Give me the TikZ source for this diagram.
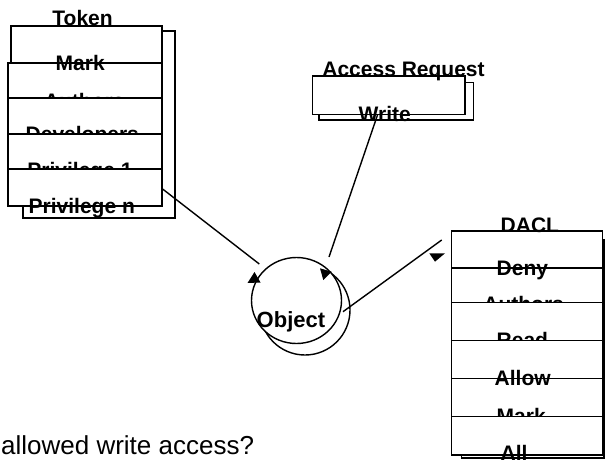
\documentclass[tikz,border=0pt]{standalone}
\usepackage{fontspec}
\setmainfont{Liberation Sans}
\begin{document}
\begin{tikzpicture}[x=1pt,y=-1pt,line width=1.4pt,
  cell/.style={draw=black,fill=white},
  lbl/.style={font=\bfseries\fontsize{21}{24}\selectfont,anchor=base west,inner sep=0pt},
  conn/.style={draw=black,line width=1.4pt},
  head/.style={fill=black,draw=none}]
\useasboundingbox (0,0) rectangle (605,461);
% ---------- Token stack ----------
\draw[cell] (23,31) rectangle (175,218);
\draw[cell] (11,26) rectangle (162,63);
\draw[cell] (8,63) rectangle (162,98);
\draw[cell] (8,98) rectangle (162,134);
\draw[cell] (8,134) rectangle (162,169);
\draw[cell] (8,169) rectangle (162,206);
\node[lbl] (token) at (51.7,25) {Token};
\node[lbl] (tmark) at (55,70.7) {Mark};
\begin{scope}\clip (0,0) rectangle (200,98);
\node[lbl] (tauthors) at (43.3,108) {Authors};\end{scope}
\begin{scope}\clip (0,0) rectangle (200,134);
\node[lbl] (tdev) at (25,141.4) {Developers};\end{scope}
\begin{scope}\clip (0,0) rectangle (200,169);
\node[lbl] (tpriv1) at (26.7,177) {Privilege 1};\end{scope}
\node[lbl] (tprivn) at (28,213.7) {Privilege n};
% ---------- Access Request ----------
\draw[cell] (319,82.3) rectangle (473.3,120);
\draw[cell] (312.7,76) rectangle (465,114.3);
\node[lbl] (access) at (321.7,76) {Access Request};
\node[lbl] (write) at (358,121.7) {Write};
% ---------- Object ----------
\draw[cell] (305,310) circle (45);
\draw[cell] (296.5,300.5) ellipse (45 and 43);
\node[lbl,font=\bfseries\fontsize{22}{24}\selectfont] (object) at (256,327) {Object};
% ---------- DACL stack ----------
\draw[cell] (461.7,240) rectangle (604,458);
\draw[cell] (451.7,231) rectangle (602.7,268);
\draw[cell] (451.7,268) rectangle (602.7,302.7);
\draw[cell] (451.7,302.7) rectangle (602.7,340.7);
\draw[cell] (451.7,340.7) rectangle (602.7,378.7);
\draw[cell] (451.7,378.7) rectangle (602.7,416.7);
\draw[cell] (451.7,416.7) rectangle (602.7,455);
\node[lbl] (dacl) at (500,232.7) {DACL};
\node[lbl] (deny) at (496,275) {Deny};
\begin{scope}\clip (440,0) rectangle (605,302.7);
\node[lbl] (dauthors) at (482.7,311.4) {Authors};\end{scope}
\begin{scope}\clip (440,0) rectangle (605,340.7);
\node[lbl] (read) at (496,347) {Read};\end{scope}
\node[lbl] (allow) at (494,385) {Allow};
\begin{scope}\clip (440,0) rectangle (605,416.7);
\node[lbl] (dmark) at (496,423.7) {Mark};\end{scope}
\node[lbl] (all) at (500,460.4) {All};
% ---------- connectors ----------
\coordinate (c1s) at (161.7,188.3);
\coordinate (c1e) at (259.3,264);
\coordinate (c2s) at (377.5,115);
\coordinate (c2e) at (329,257);
\coordinate (c3s) at (343,311.7);
\coordinate (c3e) at (441.7,240);
\draw[conn] (c1s) -- (c1e);
\draw[conn] (c2s) -- (c2e);
\draw[conn] (c3s) -- (c3e);
\fill[head] (254.5,272) -- (247.5,283) -- (260.5,282.5) -- cycle;
\fill[head] (320,268.3) -- (331.7,271.7) -- (323.3,280) -- cycle;
\fill[head] (429.3,253.3) -- (445,253.3) -- (435,261.7) -- cycle;
% ---------- caption ----------
\node[anchor=base west,inner sep=0pt,font=\fontsize{26}{30}\selectfont] (question) at (0.5,454) {allowed write access?};
\end{tikzpicture}
\end{document}
